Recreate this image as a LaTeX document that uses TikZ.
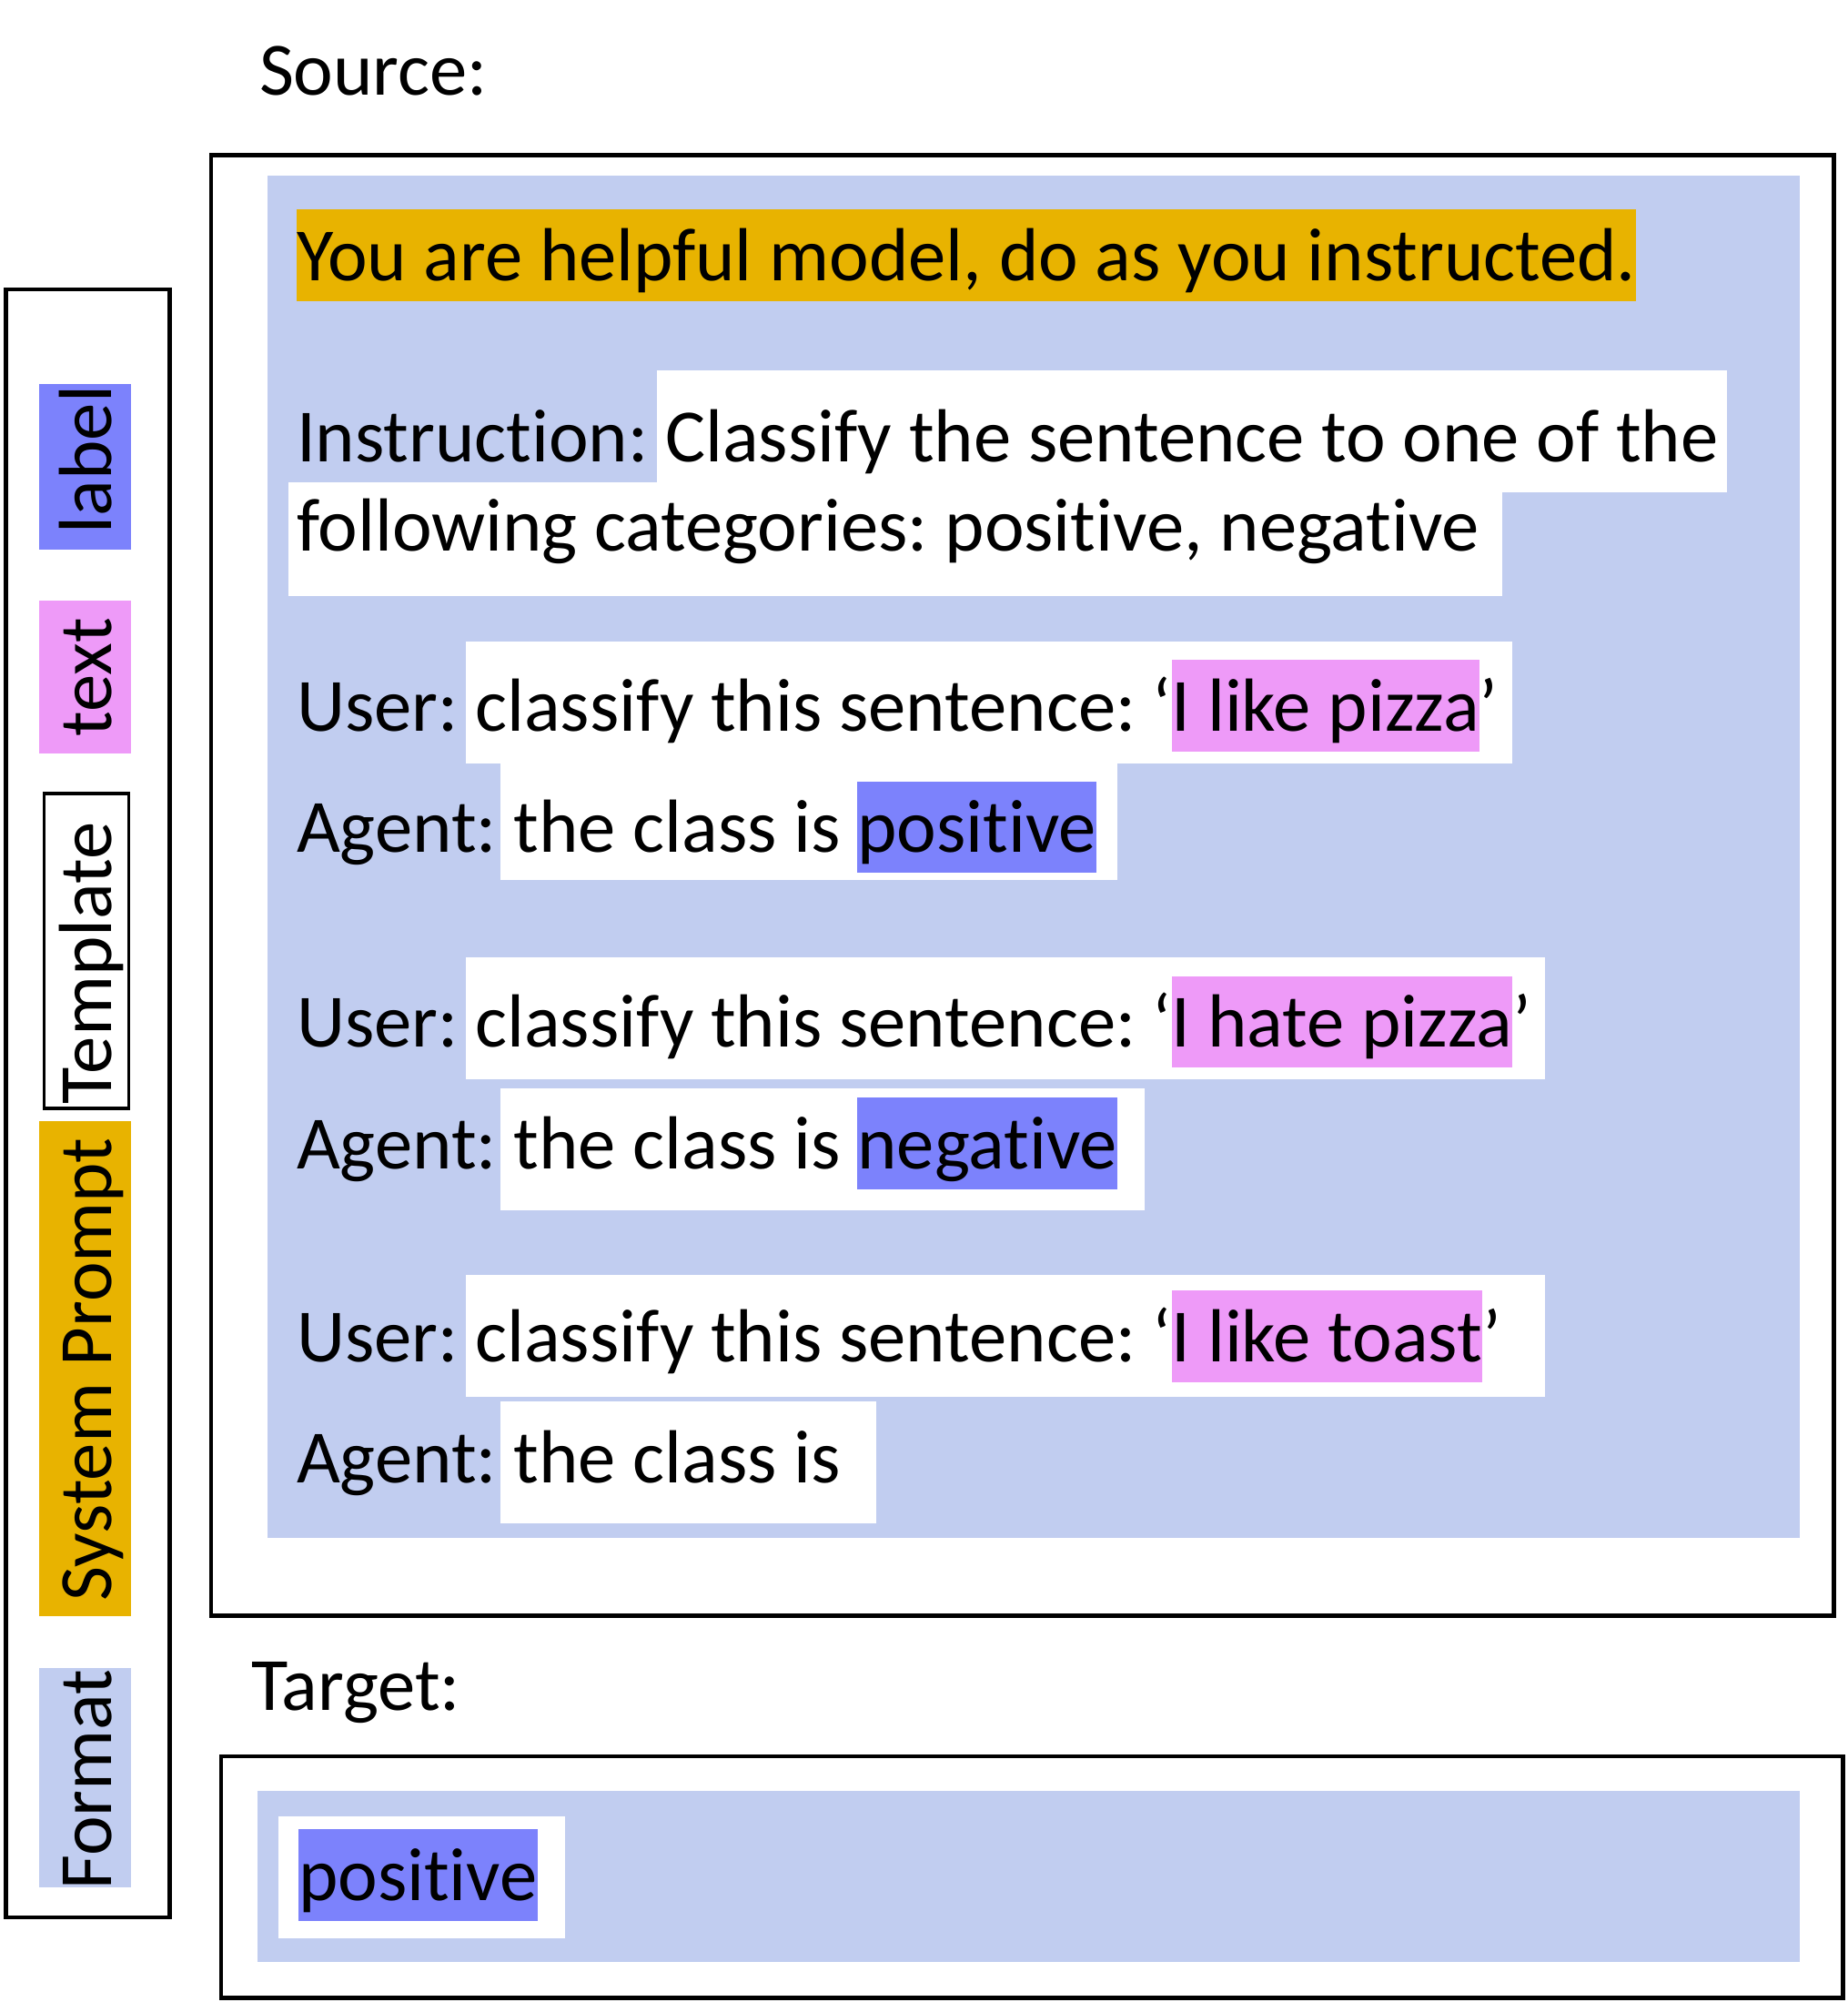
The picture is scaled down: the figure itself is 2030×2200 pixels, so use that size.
\documentclass[tikz,border=0pt]{standalone}
\usepackage{fontspec}
\setmainfont{Carlito}[Ligatures=NoCommon]
\frenchspacing
\definecolor{fmtc}{RGB}{193,205,240}
\definecolor{lblc}{RGB}{124,130,252}
\definecolor{txtc}{RGB}{238,154,248}
\definecolor{sysc}{RGB}{232,179,0}
\begin{document}
\begin{tikzpicture}[x=0.5pt,y=-0.5pt,
  every node/.style={font=\fontsize{41.35pt}{50pt}\selectfont\frenchspacing, inner sep=0pt, outer sep=0pt},
  txt/.style={anchor=base west},
  hl/.style={anchor=base west, text height=38.8pt, text depth=11.3pt},
  frame/.style={draw=black, line width=2.25pt},
  legtxt/.style={rotate=90, anchor=base west}]
\useasboundingbox (0,0) rectangle (2030,2200);

% ---------- legend ----------
\draw[frame] (6.7,318) rectangle (186.7,2107);
\fill[lblc] (43.3,422.4) rectangle (144.3,603.6);
\node[legtxt] (lg1) at (122.3,586) {label};
\fill[txtc] (43.3,660.3) rectangle (144.3,828);
\node[legtxt] (lg2) at (122.3,809) {text};
\draw[black, line width=1.7pt] (48.3,872) rectangle (141.7,1218);
\node[legtxt] (lg3) at (122.3,1213) {Template};
\fill[sysc] (43.3,1232) rectangle (144.3,1776);
\node[legtxt] (lg4) at (122.3,1759) {System Prompt};
\fill[fmtc] (43.3,1833.3) rectangle (144.3,2073.7);
\node[legtxt] (lg5) at (122.3,2076.5) {Format};

% ---------- source ----------
\node[txt] (src) at (285,104) {Source:};
\draw[frame] (232,170.5) rectangle (2015.5,1775.5);
\fill[fmtc] (294,192.7) rectangle (1977.7,1689.7);
\fill[white] (722,406.8) rectangle (1897.7,540.7);
\fill[white] (317,530) rectangle (1651.3,654.6);
\fill[white] (512,704.8) rectangle (1661.7,838.7);
\fill[white] (550,838.6) rectangle (1227.8,967.3);
\fill[white] (512,1052.3) rectangle (1697.9,1186.3);
\fill[white] (550,1196.3) rectangle (1257.9,1329.6);
\fill[white] (512,1401.2) rectangle (1697.9,1535.2);
\fill[white] (550,1540) rectangle (962.5,1673.7);

\node[hl, fill=sysc] (sys) at (326,308) {You are helpful model, do as you instructed.};
\node[txt] (ins1) at (326,507) {Instruction: Classify the sentence to one of the};
\node[txt] (ins2) at (326,605.4) {following categories: positive, negative};

\node[txt] (u1a) at (326,803) {User: classify this sentence: ‘};
\node[hl, fill=txtc] (u1b) at (u1a.base east) {I like pizza};
\node[txt] (u1c) at (u1b.base east) {’};
\node[txt] (a1a) at (326,936.7) {Agent: the class is\ \hbox{}};
\node[hl, fill=lblc] (a1b) at (a1a.base east) {positive};

\node[txt] (u2a) at (326,1150.5) {User: classify this sentence: ‘};
\node[hl, fill=txtc] (u2b) at (u2a.base east) {I hate pizza};
\node[txt] (u2c) at (u2b.base east) {’};
\node[txt] (a2a) at (326,1284) {Agent: the class is\ \hbox{}};
\node[hl, fill=lblc] (a2b) at (a2a.base east) {negative};

\node[txt] (u3a) at (326,1496) {User: classify this sentence: ‘};
\node[hl, fill=txtc] (u3b) at (u3a.base east) {I like toast};
\node[txt] (u3c) at (u3b.base east) {’};
\node[txt] (a3a) at (326,1629.7) {Agent: the class is};

% ---------- target ----------
\node[txt] (tgt) at (276,1879.5) {Target:};
\draw[frame] (243,1930) rectangle (2025.5,2195.5);
\fill[fmtc] (282.8,1968.3) rectangle (1977.7,2155.7);
\fill[white] (306,1995.5) rectangle (621,2130.4);
\node[hl, fill=lblc] (tpos) at (328,2088) {positive};
\end{tikzpicture}
\end{document}
